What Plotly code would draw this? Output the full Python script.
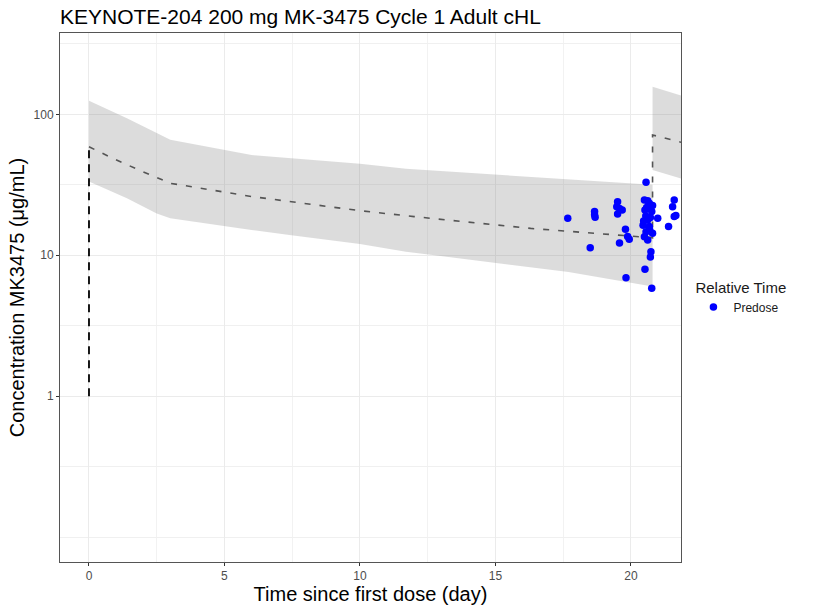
import plotly.graph_objects as go

# ---- data ----
band_time = [0, 1.4, 2.5, 3.0, 6.0, 7.4, 10.0, 11.7, 17.7, 20.8]
band_upper = [125, 93.7, 73.6, 66.0, 51.4, 48.7, 44.5, 41.0, 34.8, 31.6]
band_lower = [33.3, 25.4, 19.8, 18.3, 15.1, 13.9, 12.0, 10.6, 7.6, 6.0]

band2_time = [20.8, 21.9]
band2_upper = [157, 135]
band2_lower = [40.3, 34.8]

median_time = [0, 0.8, 1.9, 3.0, 6.0, 7.4, 10.0, 12.0, 16.3, 20.8, 20.8, 21.9]
median_conc = [58.9, 49.5, 39.8, 32.4, 26.1, 24.0, 20.7, 18.8, 15.5, 13.3, 71.3, 63.0]

dose_time = [0, 0]
dose_conc = [1.0, 58.9]

obs_time = [17.67, 18.50, 18.66, 18.66, 18.68, 19.48, 19.51, 19.58, 19.68, 19.51,
            19.80, 19.88, 19.94, 19.58, 19.82, 20.56, 20.50, 20.62, 20.68, 20.52,
            20.77, 20.80, 20.47, 20.62, 20.55, 20.68, 20.56, 20.80, 20.62, 20.50,
            20.74, 20.72, 20.52, 20.77, 20.99, 20.72, 20.45, 21.39, 21.54, 21.60,
            21.60, 21.66, 20.70, 20.58]
obs_conc = [18.3, 11.3, 20.4, 19.4, 18.6, 22.1, 24.0, 21.5, 20.9, 19.6,
            15.3, 13.6, 13.0, 12.2, 6.93, 33.0, 24.7, 24.4, 23.4, 20.9,
            20.4, 22.5, 17.5, 17.8, 19.0, 16.0, 14.7, 14.3, 12.8, 13.5,
            10.6, 9.7, 7.96, 5.84, 18.3, 18.5, 16.3, 16.0, 22.1, 24.7,
            18.8, 19.1, 15.0, 21.8]

y_major = [1, 10, 100]
y_major_text = ["1", "10", "100"]
y_minor = [0.1, 10 ** -0.5, 10 ** 0.5, 10 ** 1.5, 10 ** 2.5]
x_major = [0, 5, 10, 15, 20]
x_minor = [2.5, 7.5, 12.5, 17.5]

FONT = "Liberation Sans, Arial, sans-serif"
ribbon = "rgba(127,127,127,0.27)"

fig = go.Figure()
fig.add_trace(go.Scatter(
    x=band_time + band_time[::-1], y=band_upper + band_lower[::-1],
    fill="toself", fillcolor=ribbon, line=dict(width=0), mode="lines",
    showlegend=False, hoverinfo="skip"))
fig.add_trace(go.Scatter(
    x=band2_time + band2_time[::-1], y=band2_upper + band2_lower[::-1],
    fill="toself", fillcolor=ribbon, line=dict(width=0), mode="lines",
    showlegend=False, hoverinfo="skip"))
fig.add_trace(go.Scatter(
    x=median_time, y=median_conc, mode="lines",
    line=dict(color="#555555", width=1.6, dash="6px,9px"), showlegend=False))
fig.add_trace(go.Scatter(
    x=dose_time, y=dose_conc, mode="lines",
    line=dict(color="#000000", width=1.8, dash="8px,6px"), showlegend=False))
fig.add_trace(go.Scatter(
    x=obs_time, y=obs_conc, mode="markers", name="Predose",
    marker=dict(color="#0000FF", size=7.5)))

fig.update_layout(
    width=817, height=612,
    margin=dict(l=60, r=136, t=33, b=50),
    paper_bgcolor="white", plot_bgcolor="white",
    font=dict(family=FONT, color="#000000"),
    title=dict(text="KEYNOTE-204 200 mg MK-3475 Cycle 1 Adult cHL",
               x=60 / 817, xanchor="left", y=1 - 17 / 612, yanchor="middle",
               font=dict(size=21, color="#000000")),
    legend=dict(title=dict(text="Relative Time   ", font=dict(size=15)),
                font=dict(size=12, color="#1a1a1a"),
                x=1.02, xanchor="left", y=0.5, yanchor="middle",
                tracegroupgap=0, itemwidth=30,
                bgcolor="rgba(0,0,0,0)"),
    xaxis=dict(range=[-1.07, 21.85], tickvals=x_major, showgrid=True,
               gridcolor="#ebebeb", gridwidth=1,
               minor=dict(tickvals=x_minor, showgrid=True, gridcolor="#f2f2f2", gridwidth=0.6),
               ticks="outside", ticklen=3, tickcolor="#333333",
               tickfont=dict(size=12, color="#4d4d4d"),
               showline=True, mirror=True, linecolor="#555555", linewidth=1,
               zeroline=False,
               title=dict(text="Time since first dose (day)", font=dict(size=20), standoff=4)),
    yaxis=dict(type="log", range=[-1.177, 2.577], tickvals=y_major, ticktext=y_major_text,
               showgrid=True, gridcolor="#ebebeb", gridwidth=1,
               minor=dict(tickvals=y_minor, showgrid=True, gridcolor="#f0f0f0", gridwidth=0.8),
               ticks="outside", ticklen=3, tickcolor="#333333",
               tickfont=dict(size=12, color="#4d4d4d"),
               showline=True, mirror=True, linecolor="#555555", linewidth=1,
               zeroline=False,
               title=dict(text="Concentration MK3475 (μg/mL)", font=dict(size=20), standoff=3)),
)

fig.write_html("out.html")
